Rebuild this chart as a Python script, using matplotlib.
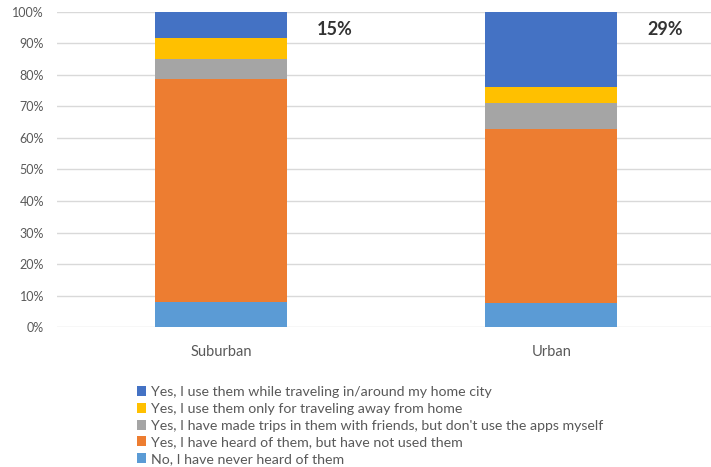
import matplotlib
matplotlib.use("Agg")
import matplotlib.pyplot as plt
from matplotlib.patches import Patch
from matplotlib.ticker import PercentFormatter

plt.rcParams['font.family'] = ['Lato', 'DejaVu Sans']

categories = ["Suburban", "Urban"]
series_names = [
    "No, I have never heard of them",
    "Yes, I have heard of them, but have not used them",
    "Yes, I have made trips in them with friends, but don't use the apps myself",
    "Yes, I use them only for traveling away from home",
    "Yes, I use them while traveling in/around my home city",
]
never_heard = [8.1, 7.6]
heard_not_used = [70.7, 55.1]
trips_with_friends = [6.1, 8.3]
away_from_home = [6.7, 5.0]
home_city = [8.4, 24.0]
usage_labels = ["15%", "29%"]

series_values = [never_heard, heard_not_used, trips_with_friends, away_from_home, home_city]
colors = ["#5B9BD5", "#ED7D31", "#A5A5A5", "#FFC000", "#4472C4"]

fig = plt.figure(figsize=(7.11, 4.67), dpi=100)
ax = fig.add_axes([0.0795, 0.2991, 0.928, 0.676])

x = list(range(len(categories)))
bottom = [0.0] * len(categories)
for vals, col in zip(series_values, colors):
    ax.bar(x, vals, width=0.4, bottom=bottom, color=col, zorder=3)
    bottom = [b + v for b, v in zip(bottom, vals)]

for xi, lab in zip(x, usage_labels):
    ax.text(xi + 0.29, 94.2, lab, ha="left", va="center", fontsize=13,
            fontweight="bold", color="#333333")

ax.set_xlim(-0.5, 1.5)
ax.set_ylim(0, 100)
ax.set_yticks(range(0, 101, 10))
ax.yaxis.set_major_formatter(PercentFormatter(decimals=0))
ax.set_xticks(x)
ax.set_xticklabels(categories)
ax.grid(axis="y", color="#D9D9D9", linewidth=1, zorder=0)
for s in ax.spines.values():
    s.set_visible(False)
ax.tick_params(axis="both", length=0, colors="#595959")
ax.tick_params(axis="y", pad=9, labelsize=9)
ax.tick_params(axis="x", pad=13, labelsize=10.5)

handles = [Patch(facecolor=c, edgecolor="none") for c in colors[::-1]]
fig.legend(handles, series_names[::-1], loc="upper left",
           bbox_to_anchor=(0.192, 0.173), frameon=False, fontsize=10.2,
           labelcolor="#595959", handlelength=0.7, handleheight=0.7,
           handletextpad=0.35, labelspacing=0.33, borderaxespad=0, borderpad=0)

fig.savefig("out.png", dpi=100)
